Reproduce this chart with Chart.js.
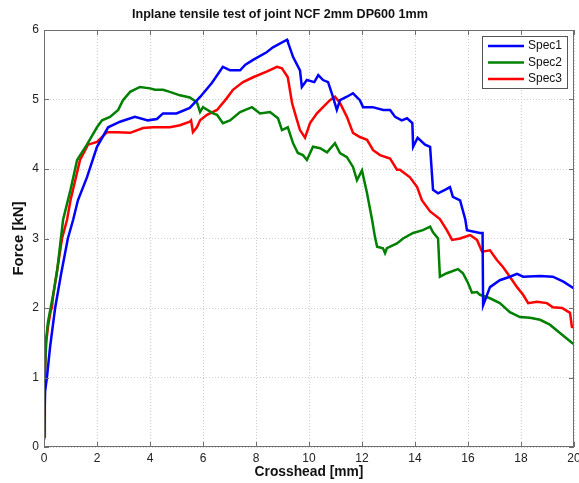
<!DOCTYPE html>
<html>
<head>
<meta charset="utf-8">
<script src="https://cdn.jsdelivr.net/npm/chart.js@4"></script>
<style>
  html, body { margin: 0; padding: 0; background: #fff; }
  #wrap { width: 579px; height: 483px; }
</style>
</head>
<body>
<div id="wrap"><canvas id="c" width="579" height="483"></canvas></div>
<script>
// Crosshead displacement [mm] and force [kN] for each specimen
const spec1X = [0, 0.04, 0.11, 0.23, 0.42, 0.65, 0.9, 1.1, 1.28, 1.62, 2.0, 2.42, 2.87, 3.43, 3.92, 4.26, 4.49, 5.0, 5.5, 5.9, 6.34, 6.75, 7.02, 7.4, 7.6, 7.89, 8.4, 8.64, 9.17, 9.2, 9.4, 9.66, 9.73, 9.92, 10.2, 10.35, 10.53, 10.72, 10.9, 11.05, 11.17, 11.43, 11.66, 11.92, 12.04, 12.4, 12.8, 13.06, 13.25, 13.5, 13.7, 13.9, 13.93, 14.1, 14.38, 14.57, 14.68, 14.87, 15.13, 15.32, 15.43, 15.7, 15.9, 15.96, 16.45, 16.55, 16.57, 16.83, 17.2, 17.58, 17.85, 18.08, 18.72, 19.2, 19.6, 20];
const spec1Y = [0.1, 0.8, 1.0, 1.44, 2.0, 2.5, 3.0, 3.27, 3.55, 3.88, 4.32, 4.6, 4.68, 4.75, 4.70, 4.72, 4.8, 4.8, 4.88, 5.04, 5.24, 5.47, 5.42, 5.42, 5.5, 5.57, 5.68, 5.75, 5.86, 5.83, 5.61, 5.42, 5.18, 5.28, 5.25, 5.35, 5.28, 5.25, 5.04, 4.85, 4.99, 5.04, 5.09, 4.99, 4.89, 4.89, 4.85, 4.85, 4.75, 4.7, 4.73, 4.66, 4.32, 4.45, 4.35, 4.32, 3.70, 3.65, 3.70, 3.74, 3.6, 3.55, 3.27, 3.12, 3.08, 3.08, 2.04, 2.3, 2.4, 2.45, 2.49, 2.45, 2.46, 2.45, 2.38, 2.28];

const spec2X = [0, 0.03, 0.08, 0.15, 0.25, 0.35, 0.5, 0.72, 1.0, 1.25, 1.62, 2.0, 2.19, 2.49, 2.8, 2.98, 3.25, 3.62, 4.0, 4.19, 4.49, 4.75, 5.13, 5.5, 5.77, 5.89, 6.0, 6.38, 6.53, 6.75, 7.02, 7.4, 7.85, 8.15, 8.53, 8.83, 8.98, 9.2, 9.4, 9.58, 9.77, 9.92, 10.15, 10.42, 10.68, 10.98, 11.17, 11.43, 11.66, 11.81, 12.0, 12.19, 12.38, 12.49, 12.57, 12.79, 12.87, 12.94, 13.32, 13.55, 13.93, 14.3, 14.57, 14.68, 14.87, 14.94, 15.2, 15.62, 15.81, 16.0, 16.15, 16.34, 16.45, 16.83, 17.2, 17.58, 17.96, 18.34, 18.72, 19.09, 19.47, 19.92, 20];
const spec2Y = [0.15, 1.0, 1.55, 1.8, 2.0, 2.2, 2.55, 3.27, 3.7, 4.13, 4.35, 4.6, 4.7, 4.75, 4.85, 4.99, 5.11, 5.18, 5.16, 5.14, 5.14, 5.11, 5.06, 5.03, 4.96, 4.82, 4.89, 4.8, 4.78, 4.66, 4.7, 4.82, 4.89, 4.8, 4.82, 4.73, 4.56, 4.6, 4.37, 4.23, 4.2, 4.13, 4.32, 4.3, 4.24, 4.37, 4.23, 4.17, 4.03, 3.84, 3.98, 3.65, 3.27, 3.02, 2.88, 2.86, 2.79, 2.86, 2.93, 3.0, 3.08, 3.12, 3.17, 3.09, 3.0, 2.45, 2.5, 2.56, 2.5, 2.36, 2.22, 2.23, 2.19, 2.14, 2.07, 1.94, 1.87, 1.86, 1.83, 1.76, 1.64, 1.5, 1.48];

const spec3X = [0, 0.03, 0.08, 0.15, 0.25, 0.3, 0.34, 0.5, 0.68, 0.87, 1.0, 1.36, 1.66, 2.0, 2.38, 2.75, 3.25, 3.74, 4.11, 4.75, 5.13, 5.5, 5.55, 5.62, 5.77, 5.89, 6.15, 6.53, 6.9, 7.13, 7.51, 7.89, 8.4, 8.79, 8.98, 9.2, 9.36, 9.55, 9.66, 9.85, 10.04, 10.3, 10.53, 10.79, 10.98, 11.17, 11.43, 11.66, 11.92, 12.19, 12.42, 12.68, 13.06, 13.32, 13.43, 13.81, 14.08, 14.26, 14.57, 14.94, 15.2, 15.4, 15.7, 16.08, 16.34, 16.53, 16.83, 17.09, 17.32, 17.58, 17.85, 18.08, 18.27, 18.6, 18.98, 19.2, 19.55, 19.85, 19.92, 20];
const spec3Y = [0.15, 1.0, 1.5, 1.73, 1.95, 2.01, 2.16, 2.55, 3.0, 3.27, 3.55, 4.13, 4.35, 4.39, 4.53, 4.53, 4.52, 4.59, 4.6, 4.6, 4.63, 4.68, 4.7, 4.53, 4.6, 4.7, 4.78, 4.85, 5.02, 5.14, 5.25, 5.32, 5.4, 5.47, 5.45, 5.32, 4.95, 4.7, 4.56, 4.45, 4.66, 4.8, 4.89, 4.99, 5.04, 4.95, 4.75, 4.52, 4.46, 4.42, 4.27, 4.2, 4.15, 3.99, 3.99, 3.88, 3.74, 3.55, 3.39, 3.28, 3.12, 2.98, 3.0, 3.05, 2.98, 2.81, 2.83, 2.69, 2.59, 2.45, 2.3, 2.19, 2.07, 2.09, 2.07, 2.01, 2.0, 1.93, 1.73, 1.72];

const seriesNames = ['Spec1', 'Spec2', 'Spec3'];
const seriesColors = ['#0000ff', '#008000', '#ff0000'];
const xTicks = [0, 2, 4, 6, 8, 10, 12, 14, 16, 18, 20];
const yTicks = [0, 1, 2, 3, 4, 5, 6];
const chartTitle = 'Inplane tensile test of joint NCF 2mm DP600 1mm';

const FONT = '"Liberation Sans", Arial, sans-serif';

function pts(xs, ys) { return xs.map((x, i) => ({ x: x, y: ys[i] })); }

const seriesData = [pts(spec1X, spec1Y), pts(spec2X, spec2Y), pts(spec3X, spec3Y)];

// Title, box around the axes, inward tick marks on all four sides, and the legend
const framePlugin = {
  id: 'frame',
  afterDraw(chart) {
    const { ctx, chartArea: a, scales } = chart;
    ctx.save();

    ctx.fillStyle = '#111';
    ctx.font = 'bold 12.6px ' + FONT;
    ctx.textAlign = 'center';
    ctx.textBaseline = 'middle';
    ctx.fillText(chartTitle, 280, 15);
    ctx.textAlign = 'left';

    ctx.strokeStyle = '#6e6e6e';
    ctx.lineWidth = 1;
    ctx.strokeRect(a.left + 0.5, a.top + 0.5, a.right - a.left - 1, a.bottom - a.top - 1);
    const len = 5;
    ctx.beginPath();
    xTicks.forEach(v => {
      const px = Math.round(scales.x.getPixelForValue(v)) + 0.5;
      ctx.moveTo(px, a.bottom); ctx.lineTo(px, a.bottom - len);
      ctx.moveTo(px, a.top); ctx.lineTo(px, a.top + len);
    });
    yTicks.forEach(v => {
      const py = Math.round(scales.y.getPixelForValue(v)) + 0.5;
      ctx.moveTo(a.left, py); ctx.lineTo(a.left + len, py);
      ctx.moveTo(a.right, py); ctx.lineTo(a.right - len, py);
    });
    ctx.stroke();

    // legend
    const bx = a.right - 92, by = a.top + 6, bw = 85, bh = 52;
    ctx.fillStyle = '#fff';
    ctx.fillRect(bx, by, bw, bh);
    ctx.strokeStyle = '#555';
    ctx.strokeRect(bx + 0.5, by + 0.5, bw, bh);
    ctx.font = '12px ' + FONT;
    ctx.textBaseline = 'middle';
    chart.data.datasets.forEach((ds, i) => {
      const y = by + 10 + i * 16.5;
      ctx.strokeStyle = ds.borderColor;
      ctx.lineWidth = 2.5;
      ctx.beginPath();
      ctx.moveTo(bx + 6, y); ctx.lineTo(bx + 42, y);
      ctx.stroke();
      ctx.fillStyle = '#111';
      ctx.fillText(ds.label, bx + 46, y);
    });
    ctx.restore();
  }
};

new Chart(document.getElementById('c'), {
  type: 'scatter',
  data: {
    datasets: seriesNames.map((name, i) => ({
      label: name,
      data: seriesData[i],
      showLine: true,
      borderColor: seriesColors[i],
      backgroundColor: seriesColors[i],
      borderWidth: 2.5,
      pointRadius: 0,
      tension: 0
    }))
  },
  options: {
    responsive: false,
    animation: false,
    layout: { padding: { left: 0, right: 5, top: 30, bottom: 0 } },
    plugins: {
      legend: { display: false },
      tooltip: { enabled: false },
      title: { display: false }
    },
    scales: {
      x: {
        type: 'linear',
        min: 0, max: 20,
        afterBuildTicks(s) { s.ticks = xTicks.map(v => ({ value: v })); },
        afterFit(s) { s.height = 36; s.paddingLeft = 0; s.paddingRight = 0; },
        grid: { color: '#cccccc', drawTicks: false, lineWidth: 1 },
        border: { display: false, dash: [1, 2] },
        ticks: { color: '#222', font: { family: FONT, size: 12 }, padding: 4, maxRotation: 0 },
        title: {
          display: true, text: 'Crosshead [mm]', color: '#111',
          font: { family: FONT, size: 13.8, weight: 'bold' },
          padding: { top: 0, bottom: 3 }
        }
      },
      y: {
        type: 'linear',
        min: 0, max: 6,
        afterBuildTicks(s) { s.ticks = yTicks.map(v => ({ value: v })); },
        afterFit(s) { s.width = 44; s.paddingTop = 0; s.paddingBottom = 0; },
        grid: { color: '#cccccc', drawTicks: false, lineWidth: 1 },
        border: { display: false, dash: [1, 2] },
        ticks: { color: '#222', font: { family: FONT, size: 12 }, padding: 5 },
        title: {
          display: true, text: 'Force [kN]', color: '#111',
          font: { family: FONT, size: 15, weight: 'bold' },
          padding: { top: 10, bottom: 0 }
        }
      }
    }
  },
  plugins: [framePlugin]
});
</script>
</body>
</html>
